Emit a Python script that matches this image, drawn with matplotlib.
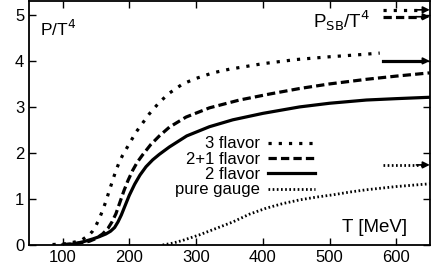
import numpy as np
import matplotlib.pyplot as plt

plt.rcParams['font.family'] = ['Liberation Sans', 'DejaVu Sans']

# 3 flavor
T3 = [85, 100, 110, 120, 130, 140, 145, 150, 155, 160, 165, 170, 175, 180, 185, 190, 200, 210, 220,
      230, 245, 260, 280, 300, 325, 350, 375, 400, 450, 500, 540, 575]
P3 = [0.01, 0.02, 0.04, 0.07, 0.12, 0.22, 0.3, 0.42, 0.57, 0.75, 0.95, 1.18, 1.4, 1.62, 1.8, 1.95, 2.2,
      2.45, 2.65, 2.85, 3.1, 3.3, 3.5, 3.62, 3.74, 3.82, 3.88, 3.94, 4.03, 4.09, 4.13, 4.17]
# 2+1 flavor
T21 = [100, 120, 140, 150, 160, 168, 174, 180, 186, 192, 198, 205, 212, 220, 232, 245, 260, 285, 320,
       365, 410, 455, 500, 555, 600, 650]
P21 = [0.01, 0.03, 0.08, 0.14, 0.24, 0.36, 0.5, 0.68, 0.93, 1.18, 1.4, 1.62, 1.8, 1.96, 2.18, 2.37, 2.56,
       2.78, 2.98, 3.15, 3.28, 3.4, 3.5, 3.6, 3.67, 3.74]
# 2 flavor
T2 = [100, 115, 131, 145, 155, 165, 172, 178, 183, 188, 193, 200, 208, 216, 225, 235, 245, 260, 286,
      320, 355, 400, 455, 500, 555, 600, 650]
P2 = [0.0, 0.02, 0.07, 0.13, 0.18, 0.24, 0.3, 0.38, 0.5, 0.65, 0.83, 1.08, 1.32, 1.52, 1.7, 1.85, 1.97,
      2.13, 2.37, 2.57, 2.72, 2.86, 3.0, 3.08, 3.15, 3.18, 3.21]
# pure gauge
Tg = [250, 265, 280, 305, 330, 355, 380, 405, 430, 455, 480, 505, 530, 555, 600, 650]
Pg = [0.0, 0.04, 0.1, 0.22, 0.36, 0.5, 0.67, 0.8, 0.9, 0.98, 1.04, 1.09, 1.15, 1.2, 1.27, 1.33]

# Stefan-Boltzmann limits
sb_3 = 5.11
sb_21 = 4.96
sb_2 = 4.0
sb_g = 1.74
arrow_T = [580, 650]

fig = plt.figure(figsize=(4.35, 2.71), dpi=100)
ax = fig.add_axes([0.067, 0.096, 0.921, 0.9])

dot3 = (0, (1.0, 2.2))
dash21 = (0, (2.6, 1.3))
dotg = (0, (0.6, 0.9))

ax.plot(T3, P3, color='black', lw=2.3, ls=dot3, label='3 flavor')
ax.plot(T21, P21, color='black', lw=2.3, ls=dash21, label='2+1 flavor')
ax.plot(T2, P2, color='black', lw=2.3, ls='-', label='2 flavor')
ax.plot(Tg, Pg, color='black', lw=2.0, ls=dotg, label='pure gauge')

for y, ls, lw in [(sb_3, dot3, 2.3), (sb_21, dash21, 2.3), (sb_2, '-', 2.3), (sb_g, dotg, 2.0)]:
    ax.plot([arrow_T[0], arrow_T[1] - 8], [y, y], color='black', lw=lw, ls=ls)
    ax.annotate('', xy=(arrow_T[1], y), xytext=(arrow_T[1] - 20, y),
                arrowprops=dict(arrowstyle='-|>', color='black', lw=1.2,
                                mutation_scale=10, shrinkA=0, shrinkB=0))

ax.set_xlim(50, 650)
ax.set_ylim(0, 5.3)
ax.set_xticks([100, 200, 300, 400, 500, 600])
ax.set_yticks([0, 1, 2, 3, 4, 5])
ax.tick_params(direction='in', top=True, right=True, labelsize=12, length=5, width=1)
for s in ax.spines.values():
    s.set_linewidth(1.3)

ax.text(66, 4.55, r'P/T$^4$', fontsize=12.5)
ax.text(616, 0.28, 'T [MeV]', fontsize=13.5, ha='right')
ax.text(560, 4.72, r'P$_{\rm SB}$/T$^4$', fontsize=13.5, ha='right')

leg = ax.legend(loc='upper right', bbox_to_anchor=(0.713, 0.445), frameon=False,
                markerfirst=False, fontsize=12, handlelength=2.8,
                labelspacing=0.02, borderpad=0, handletextpad=0.5, borderaxespad=0)
for t in leg.get_texts():
    t.set_ha('right')
leg._legend_box.align = 'right'

fig.savefig('out.png', dpi=100)
